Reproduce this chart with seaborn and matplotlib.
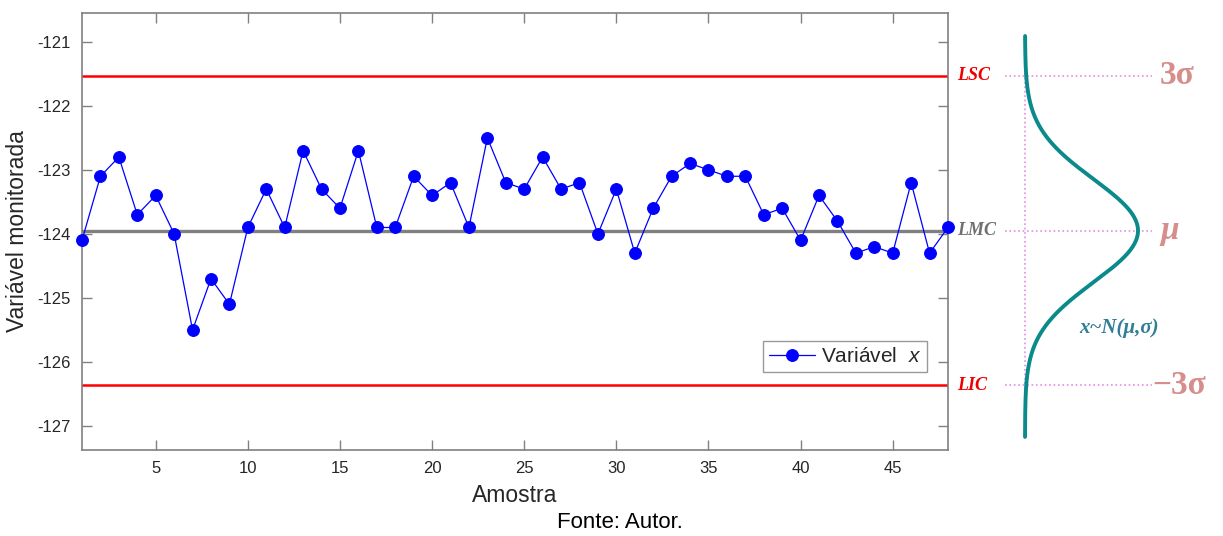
import numpy as np
import pandas as pd
import matplotlib
matplotlib.use("Agg")
import matplotlib.pyplot as plt
import seaborn as sns

# ---- data ----
samples = list(range(1, 49))
values = [-124.1, -123.1, -122.8, -123.7, -123.4, -124.0, -125.5, -124.7, -125.1, -123.9,
          -123.3, -123.9, -122.7, -123.3, -123.6, -122.7, -123.9, -123.9, -123.1, -123.4,
          -123.2, -123.9, -122.5, -123.2, -123.3, -122.8, -123.3, -123.2, -124.0, -123.3,
          -124.3, -123.6, -123.1, -122.9, -123.0, -123.1, -123.1, -123.7, -123.6, -124.1,
          -123.4, -123.8, -124.3, -124.2, -124.3, -123.2, -124.3, -123.9]
lsc = -121.53
lmc = -123.95
lic = -126.36
x_ticks = [5, 10, 15, 20, 25, 30, 35, 40, 45]
y_ticks = [-127, -126, -125, -124, -123, -122, -121]
series_label = "Variável  $x$"
limit_labels = ["LSC", "LMC", "LIC"]
sigma_labels = ["3σ", "μ", "−3σ"]
dist_label = "x~N(μ,σ)"
x_label = "Amostra"
y_label = "Variável monitorada"
source = "Fonte: Autor."

df = pd.DataFrame({"Amostra": samples, "valor": values})

sns.set_style("white")
plt.rcParams["font.family"] = ["Liberation Sans", "DejaVu Sans"]
plt.rcParams["axes.unicode_minus"] = False
plt.rcParams["mathtext.fontset"] = "custom"
plt.rcParams["mathtext.it"] = "Liberation Sans:italic"
plt.rcParams["mathtext.rm"] = "Liberation Sans"

W, H = 1223, 536
fig = plt.figure(figsize=(W / 100, H / 100), dpi=100)
ax = fig.add_axes([82 / W, 86 / H, 866 / W, 437 / H])
ylim = (-127.375, -120.55)

ax.axhline(lsc, color="#ff0000", lw=1.8, zorder=1)
ax.axhline(lic, color="#ff0000", lw=1.8, zorder=1)
ax.axhline(lmc, color="#808080", lw=2.4, zorder=1)

sns.lineplot(data=df, x="Amostra", y="valor", ax=ax, color="#0000ff", lw=0.9,
             marker="o", markersize=8.5, markeredgecolor="#0000ff",
             label=series_label, zorder=3, clip_on=False)

ax.set_xlim(1, 48)
ax.set_ylim(*ylim)
ax.set_xticks(x_ticks)
ax.set_yticks(y_ticks)
ax.set_yticklabels([str(t) for t in y_ticks])
ax.tick_params(axis="both", direction="in", length=7, width=1, color="#808080",
               labelsize=12, labelcolor="#262626", top=True, right=True,
               left=True, bottom=True, pad=8)
for s in ax.spines.values():
    s.set_color("#808080")
    s.set_linewidth(1.2)
ax.set_xlabel(x_label, fontsize=16.5, color="#262626", labelpad=6)
ax.set_ylabel(y_label, fontsize=16.5, color="#262626", labelpad=6)

leg = ax.legend(loc="lower right", bbox_to_anchor=(0.976, 0.178), fontsize=15,
                frameon=True, fancybox=False, edgecolor="#808080",
                handlelength=2.2, handletextpad=0.3, borderpad=0.3,
                borderaxespad=0)
leg.get_frame().set_linewidth(1.0)

fig.text(620 / W, 13 / H, source, fontsize=16, ha="center", va="center", color="black")

# ---- right-side normal distribution sketch ----
dx = fig.add_axes([948 / W, 86 / H, 275 / W, 437 / H])
dx.set_xlim(948, 1223)
dx.set_ylim(*ylim)
dx.axis("off")

sigma = (lsc - lic) / 6.0
mu = lmc
base_x, amp = 1025, 113
yy = np.linspace(-127.17, -120.91, 400)
xx = base_x + amp * np.exp(-0.5 * ((yy - mu) / sigma) ** 2)

violet = "#e58be5"
dx.plot([base_x, base_x], [yy[0], yy[-1]], color=violet, ls=":", lw=1.2, zorder=1)
for yv in (lsc, lmc, lic):
    dx.plot([1005, 1152], [yv, yv], color=violet, ls=":", lw=1.2, zorder=1)
sns.lineplot(x=xx, y=yy, ax=dx, color="#0a8a8a", lw=2.8, sort=False,
             estimator=None, zorder=3)

serif = ["Liberation Serif", "DejaVu Serif"]
lab_colors = ["#ee0000", "#707070", "#ee0000"]
for lab, yv, c in zip(limit_labels, (lsc, lmc, lic), lab_colors):
    dx.text(957, yv, lab, color=c, fontsize=13, family=serif,
            fontweight="bold", fontstyle="italic", ha="left", va="center")
sig_x = [1160, 1160, 1152]
sig_style = ["normal", "italic", "normal"]
for lab, yv, xp, st in zip(sigma_labels, (lsc, lmc, lic), sig_x, sig_style):
    dx.text(xp, yv, lab, color="#d68e8c", fontsize=24, family=serif,
            fontweight="bold", fontstyle=st, ha="left", va="center")
dx.text(1119, -125.47, dist_label, color="#2f7f96", fontsize=15, family=serif,
        fontweight="bold", fontstyle="italic", ha="center", va="center")

fig.savefig("out.png", dpi=100)
